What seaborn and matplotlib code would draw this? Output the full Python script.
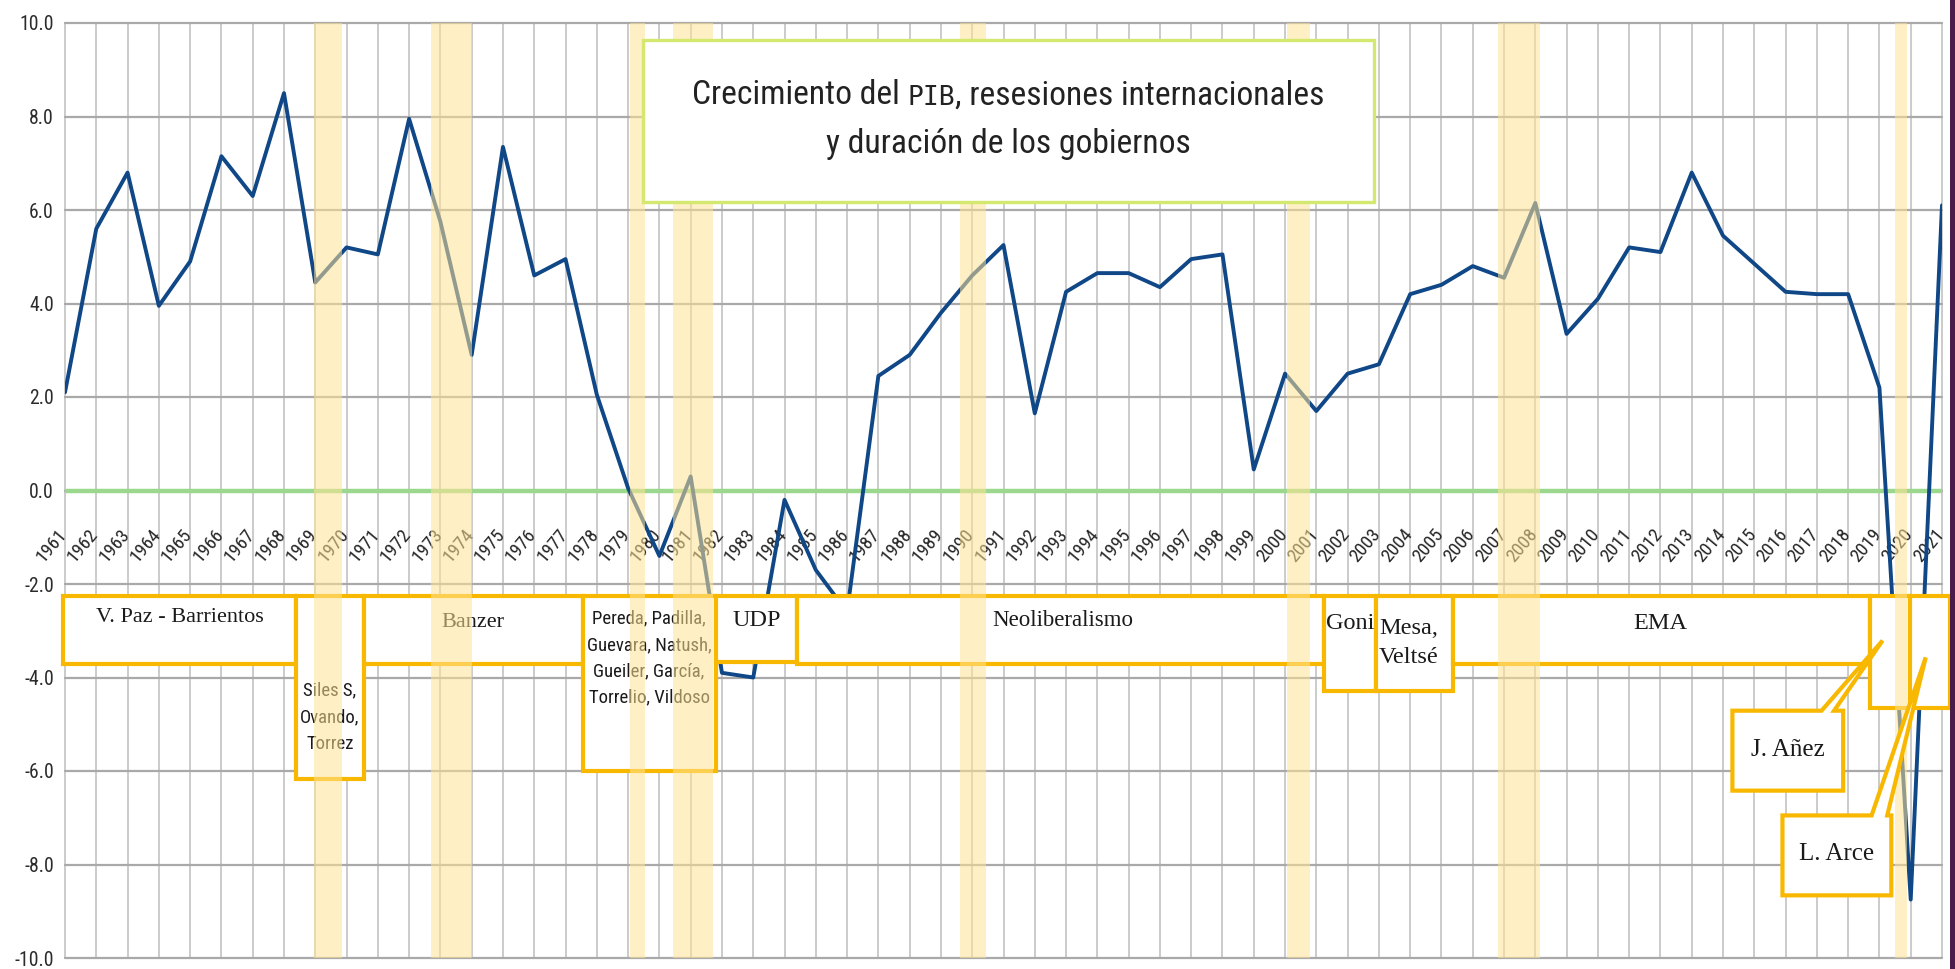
import matplotlib
matplotlib.use('Agg')
import matplotlib.pyplot as plt
import seaborn as sns
import pandas as pd
from matplotlib import font_manager as fm
from matplotlib.patches import Rectangle, Polygon

# Crecimiento anual del PIB (%), 1961-2021
years = list(range(1961, 2022))
gdp = [2.1, 5.6, 6.8, 3.95, 4.9, 7.15, 6.3, 8.5, 4.45, 5.2,
       5.05, 7.95, 5.75, 2.9, 7.35, 4.6, 4.95, 2.05, 0.05, -1.4,
       0.3, -3.9, -4.0, -0.2, -1.7, -2.6, 2.45, 2.9, 3.8, 4.6,
       5.25, 1.65, 4.25, 4.65, 4.65, 4.35, 4.95, 5.05, 0.45, 2.5,
       1.7, 2.5, 2.7, 4.2, 4.4, 4.8, 4.55, 6.15, 3.35, 4.1,
       5.2, 5.1, 6.8, 5.45, 4.85, 4.25, 4.2, 4.2, 2.2, -8.75,
       6.1]

# Recesiones internacionales (franjas)
recession_start = [1968.95, 1972.7, 1979.05, 1980.45, 1989.6, 2000.05, 2006.8, 2019.5]
recession_end = [1969.85, 1974.0, 1979.55, 1981.7, 1990.45, 2000.8, 2008.15, 2019.88]

# Gobiernos
gov_names = ['V. Paz - Barrientos', 'Siles S,\nOvando,\nTorrez', 'Banzer',
             'Pereda, Padilla,\nGuevara, Natush,\nGueiler, García,\nTorrelio, Vildoso',
             'UDP', 'Neoliberalismo', 'Goni', 'Mesa,\nVeltsé', 'EMA', '', '']
gov_start = [1960.95, 1968.4, 1970.55, 1977.55, 1981.8, 1984.4, 2001.25, 2002.9, 2005.37, 2018.7, 2019.97]
gov_end = [1968.4, 1970.55, 1977.55, 1981.8, 1984.4, 2001.25, 2002.9, 2005.37, 2018.7, 2019.97, 2021.25]
callout_names = ['J. Añez', 'L. Arce']

title_a = 'Crecimiento del '
title_b = 'PIB'
title_c = ', resesiones internacionales'
title_2 = 'y duración de los gobiernos'

sns.set_theme(style='white')

# buscar una fuente estrecha
available = sorted({f.name for f in fm.fontManager.ttflist})
NARROW, NS = 'Liberation Sans', 0.84
prefs = [('Liberation Sans Narrow', 1.0), ('Arial Narrow', 1.0), ('Nimbus Sans Narrow', 1.0),
         ('Roboto Condensed', 0.95), ('Noto Sans Condensed', 0.95), ('Open Sans Condensed', 0.95),
         ('DejaVu Sans Condensed', 0.8)]
found = False
for name, scale in prefs:
    if name in available:
        NARROW, NS = name, scale
        found = True
        break
if not found:
    for name in available:
        if 'Narrow' in name or 'Condensed' in name:
            NARROW, NS = name, 0.9
            break
SERIF = 'Liberation Serif'
plt.rcParams['font.family'] = [NARROW, 'DejaVu Sans']

GOLD = '#f9b800'
TXT = '#1a1a1a'

fig = plt.figure(figsize=(19.55, 9.69), dpi=100)
fig.patch.set_facecolor('white')
ax = fig.add_axes([65 / 1955, 11 / 969, 1877 / 1955, 935 / 969])

df = pd.DataFrame({'anio': years, 'pib': gdp})
sns.lineplot(data=df, x='anio', y='pib', color='#0f4787', linewidth=2.8, zorder=3, ax=ax)
ax.axhline(0, color='#9bd78c', lw=3.2, zorder=1.5)

ax.set_xlim(1961, 2021)
ax.set_ylim(-10, 10)
ax.set_xticks(years)
ax.set_xticklabels([])
yt = list(range(-10, 11, 2))
ax.set_yticks(yt)
ax.set_yticklabels([f'{v:.1f}' for v in yt])
ax.tick_params(axis='x', length=0)
ax.tick_params(axis='y', length=6, width=1.5, color='#a8a8a8', pad=2,
               labelsize=15 * NS, labelcolor='#2b2b2b')
ax.set_xlabel('')
ax.set_ylabel('')
for s in ax.spines.values():
    s.set_visible(False)
ax.grid(axis='x', color='#bdbdbd', lw=1.1, zorder=0.5)
ax.grid(axis='y', color='#a9a9a9', lw=1.6, zorder=0.6)
ax.set_axisbelow(True)
for gl in ax.get_xgridlines() + ax.get_ygridlines():
    gl.set_clip_on(False)

# etiquetas de los años dentro del gráfico
for yr in years:
    ax.text(yr - 0.42, -1.18, str(yr), rotation=50, ha='center', va='center',
            rotation_mode='anchor', fontsize=14.3 * NS, color='#262626', zorder=2)

# cajas de gobiernos
box_top = -2.25
box_bottom = [-3.71, -6.17, -3.71, -6.0, -3.67, -3.71, -4.28, -4.28, -3.71, -4.66, -4.66]
label_pos = [(1964.66, -2.71, 'center', SERIF, 16, 1.2),
             (1969.47, -4.85, 'center', NARROW, 14.2 * NS, 1.6),
             (1974.04, -2.82, 'center', SERIF, 16, 1.2),
             (1979.67, -3.585, 'center', NARROW, 14.2 * NS, 1.6),
             (1983.1, -2.78, 'center', SERIF, 17.5, 1.2),
             (1992.9, -2.78, 'center', SERIF, 16.5, 1.2),
             (2002.07, -2.85, 'center', SERIF, 17.5, 1.2),
             (2003.0, -3.26, 'left', SERIF, 17.5, 1.5),
             (2012.0, -2.85, 'center', SERIF, 17.5, 1.2),
             (2019.3, -3.0, 'center', SERIF, 17.5, 1.2),
             (2020.6, -3.0, 'center', SERIF, 17.5, 1.2)]
for name, x0, x1, yb, (lx, ly, ha, fam, fs, lsp) in zip(gov_names, gov_start, gov_end, box_bottom, label_pos):
    ax.add_patch(Rectangle((x0, yb), x1 - x0, box_top - yb, facecolor='white',
                           edgecolor=GOLD, lw=3, zorder=4, clip_on=False))
    if name:
        ax.text(lx, ly, name, ha=ha, va='center', family=fam, fontsize=fs,
                linespacing=lsp, color=TXT, zorder=4.5)

# franjas de recesión
for a, b in zip(recession_start, recession_end):
    ax.axvspan(a, b, color='#ffe294', alpha=0.55, lw=0, zorder=5)

# llamadas J. Añez y L. Arce
callout_geo = [(2014.3, 2017.84, -6.42, -4.71, 2017.15, 2017.55, (2019.1, -3.21)),
               (2015.9, 2019.38, -8.66, -6.95, 2018.75, 2019.25, (2020.48, -3.57))]
for name, (x0, x1, yb, ytp, b1, b2, tip) in zip(callout_names, callout_geo):
    pts = [(x0, yb), (x0, ytp), (b1, ytp), tip, (b2, ytp), (x1, ytp), (x1, yb)]
    ax.add_patch(Polygon(pts, closed=True, facecolor='white', edgecolor=GOLD,
                         lw=3, zorder=6, clip_on=False))
    ax.text((x0 + x1) / 2, (yb + ytp) / 2 + 0.02, name, ha='center', va='center',
            family=SERIF, fontsize=18, color=TXT, zorder=6.5)

# caja del título
ax.add_patch(Rectangle((1979.47, 6.17), 2002.83 - 1979.47, 9.63 - 6.17, facecolor='white',
                       edgecolor='#d3e86e', lw=2.4, zorder=6))
tcx = (1979.47 + 2002.83) / 2
t1 = ax.text(1981, 8.45, title_a, ha='left', va='center', fontsize=25.5 * NS,
             color='#222222', zorder=7)
t2 = ax.annotate(title_b, xy=(1, 0), xycoords=t1, ha='left', va='bottom',
                 family='DejaVu Sans Mono', fontsize=19,
                 color='#222222', zorder=7)
t3 = ax.annotate(title_c, xy=(1, 0), xycoords=t2, ha='left', va='bottom',
                 fontsize=25.5 * NS, color='#222222', zorder=7)
ax.text(tcx, 7.42, title_2, ha='center', va='center', fontsize=25.5 * NS,
        color='#222222', zorder=7)

fig.canvas.draw()
r = fig.canvas.get_renderer()
w = t3.get_window_extent(r).x1 - t1.get_window_extent(r).x0
cx = ax.transData.transform((tcx, 0))[0]
t1.set_x(ax.transData.inverted().transform((cx - w / 2, 0))[0])

# borde oscuro a la derecha
fig.add_artist(Rectangle((1950 / 1955, 0), 5 / 1955, 1, transform=fig.transFigure,
                         facecolor='#4a1c4c', edgecolor='none'))

fig.savefig('out.png', dpi=100)
